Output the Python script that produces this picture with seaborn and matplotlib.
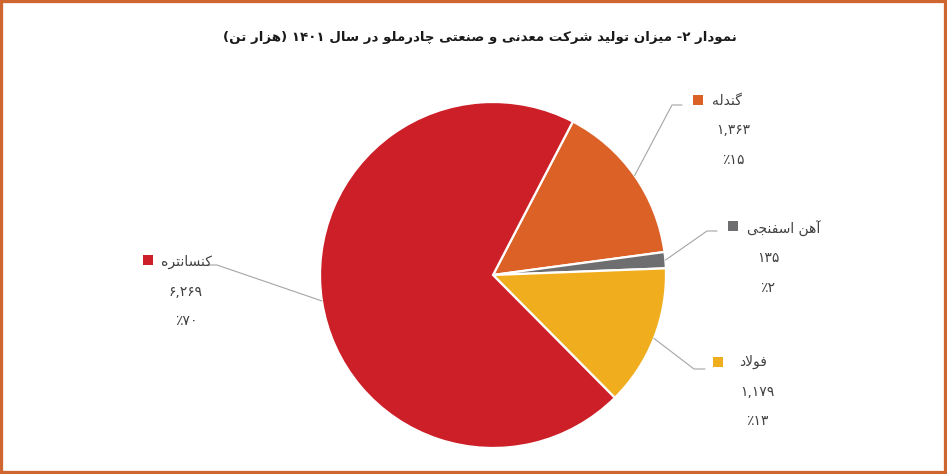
import re
import numpy as np
import matplotlib
matplotlib.use("Agg")
import matplotlib.pyplot as plt
from matplotlib.patches import Rectangle
import seaborn as sns

# داده‌ها (هزار تن)
names = ["گندله", "آهن اسفنجی", "فولاد", "کنسانتره"]
values = [1363, 135, 1179, 6269]
colors = ["#DC6127", "#6E6E70", "#F0AE1E", "#CD1F27"]
title = "نمودار ۲- میزان تولید شرکت معدنی و صنعتی چادرملو در سال ۱۴۰۱ (هزار تن)"

# شکل حروف عربی/فارسی (matplotlib خودش حروف را به هم نمی‌چسباند)
FORMS = {
    "ا": ("\uFE8D", "\uFE8E"), "آ": ("\uFE81", "\uFE82"),
    "د": ("\uFEA9", "\uFEAA"), "ر": ("\uFEAD", "\uFEAE"),
    "ز": ("\uFEAF", "\uFEB0"), "و": ("\uFEED", "\uFEEE"),
    "ب": ("\uFE8F", "\uFE90", "\uFE91", "\uFE92"),
    "ت": ("\uFE95", "\uFE96", "\uFE97", "\uFE98"),
    "ج": ("\uFE9D", "\uFE9E", "\uFE9F", "\uFEA0"),
    "چ": ("\uFB7A", "\uFB7B", "\uFB7C", "\uFB7D"),
    "س": ("\uFEB1", "\uFEB2", "\uFEB3", "\uFEB4"),
    "ش": ("\uFEB5", "\uFEB6", "\uFEB7", "\uFEB8"),
    "ص": ("\uFEB9", "\uFEBA", "\uFEBB", "\uFEBC"),
    "ع": ("\uFEC9", "\uFECA", "\uFECB", "\uFECC"),
    "ف": ("\uFED1", "\uFED2", "\uFED3", "\uFED4"),
    "ک": ("\uFB8E", "\uFB8F", "\uFB90", "\uFB91"),
    "گ": ("\uFB92", "\uFB93", "\uFB94", "\uFB95"),
    "ل": ("\uFEDD", "\uFEDE", "\uFEDF", "\uFEE0"),
    "م": ("\uFEE1", "\uFEE2", "\uFEE3", "\uFEE4"),
    "ن": ("\uFEE5", "\uFEE6", "\uFEE7", "\uFEE8"),
    "ه": ("\uFEE9", "\uFEEA", "\uFEEB", "\uFEEC"),
    "ی": ("\uFBFC", "\uFBFD", "\uFBFE", "\uFBFF"),
}
LAM_ALEF = {"ا": ("\uFEFB", "\uFEFC"), "آ": ("\uFEF5", "\uFEF6")}


def dual(c):
    return c in FORMS and len(FORMS[c]) == 4


def shape(s):
    res = []
    i = 0
    while i < len(s):
        c = s[i]
        if c not in FORMS:
            res.append(c)
            i += 1
            continue
        join_prev = i > 0 and dual(s[i - 1])
        if c == "ل" and i + 1 < len(s) and s[i + 1] in LAM_ALEF:
            res.append(LAM_ALEF[s[i + 1]][1 if join_prev else 0])
            i += 2
            continue
        join_next = dual(c) and i + 1 < len(s) and s[i + 1] in FORMS
        f = FORMS[c]
        if join_prev and join_next:
            res.append(f[3])
        elif join_prev:
            res.append(f[1])
        elif join_next:
            res.append(f[2])
        else:
            res.append(f[0])
        i += 1
    return "".join(res)


def rtl(s):
    # راست به چپ: برعکس کردن، ولی اعداد سر جایشان
    t = shape(s)[::-1].translate(str.maketrans("()", ")("))
    return re.sub(r"[۰-۹][۰-۹,]*[۰-۹]|[۰-۹]", lambda m: m.group(0)[::-1], t)


def fa(s):
    return s.translate(str.maketrans("0123456789", "۰۱۲۳۴۵۶۷۸۹"))


total = sum(values)

sns.set_theme(style="white")
plt.rcParams["font.family"] = ["DejaVu Sans"]

fig = plt.figure(figsize=(9.47, 4.74), dpi=100)
CX, CY, R = 493, 275, 173
ax = fig.add_axes([(CX - R) / 947, (474 - CY - R) / 474, 2 * R / 947, 2 * R / 474])

wedges, _ = ax.pie(values, colors=sns.color_palette(colors), startangle=62.5,
                   counterclock=False,
                   wedgeprops=dict(edgecolor="white", linewidth=1.6))
ax.set_xlim(-1, 1)
ax.set_ylim(-1, 1)
ax.set_aspect("equal")
ax.axis("off")


def px(x, y):
    return (x - CX) / R, (CY - y) / R


# جای برچسب‌ها: (زانوی خط, انتهای خط, مربع, شروع نام, وسط اعداد)
label_pos = [
    ((672, 105), (682, 105), (698, 100), 712, 733),
    ((707, 231), (717, 231), (733, 226), 747, 768),
    ((694, 369), (705, 369), (718, 362), 739, 757),
    ((217, 265), (207, 265), (148, 260), 161, 186),
]
name_y = [101, 229, 362, 262]

text_color = "#404040"
for w, name, v, col, pos, ny in zip(wedges, names, values, colors, label_pos, name_y):
    mid = np.deg2rad((w.theta1 + w.theta2) / 2)
    a = (np.cos(mid), np.sin(mid))
    e = px(*pos[0])
    h = px(*pos[1])
    ax.plot([a[0], e[0], h[0]], [a[1], e[1], h[1]], color="#A5A5A5", lw=0.8,
            clip_on=False)
    sq = px(*pos[2])
    ax.scatter([sq[0]], [sq[1]], marker="s", s=48, color=col, clip_on=False,
               linewidths=0)
    p = px(pos[3], ny)
    ax.text(p[0], p[1], rtl(name), ha="left", va="center", fontsize=10,
            color=text_color, clip_on=False)
    pct = round(v / total * 100)
    for k, line in enumerate([rtl(fa(f"{v:,}")), rtl(fa(str(pct)) + "٪")]):
        p = px(pos[4], ny + (k + 1) * 29.5)
        ax.text(p[0], p[1], line, ha="center", va="center", fontsize=10,
                color=text_color, clip_on=False)

fig.text(480 / 947, 1 - 38 / 474, rtl(title), ha="center", va="center",
         fontsize=9.6, fontweight="bold", color="#1a1a1a")

fig.patches.append(Rectangle((0, 0), 1, 1, transform=fig.transFigure, fill=False,
                             edgecolor="#D0662F", linewidth=4.5))

fig.savefig("out.png", dpi=100)
